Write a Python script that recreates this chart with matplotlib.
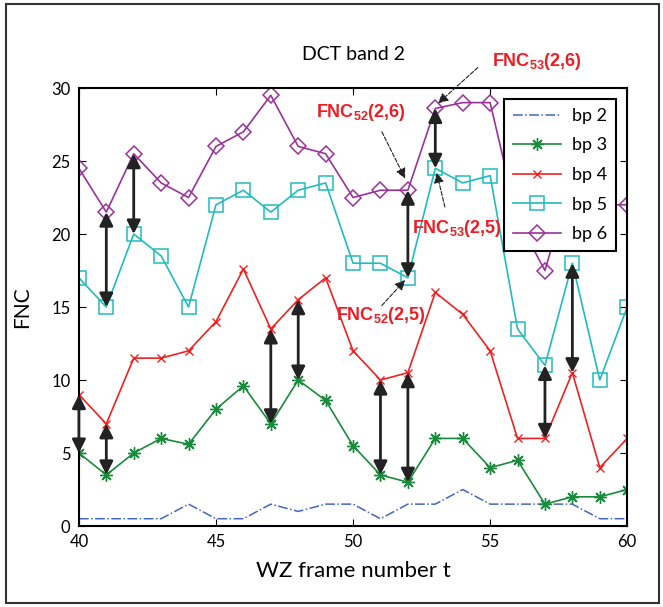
import numpy as np
import matplotlib
matplotlib.use('Agg')
import matplotlib.pyplot as plt
from matplotlib.patches import Rectangle

plt.rcParams['font.family'] = ['Lato', 'DejaVu Sans']
plt.rcParams['mathtext.fontset'] = 'custom'
plt.rcParams['mathtext.rm'] = 'Liberation Sans:bold'
plt.rcParams['mathtext.bf'] = 'Liberation Sans:bold'
plt.rcParams['mathtext.default'] = 'bf'

# frame numbers
t = list(range(40, 61))

# FNC per bit plane
bp2 = [0.5, 0.5, 0.5, 0.5, 1.5, 0.5, 0.5, 1.5, 1.0, 1.5, 1.5,
       0.5, 1.5, 1.5, 2.5, 1.5, 1.5, 1.5, 1.5, 0.5, 0.5]
bp3 = [5, 3.5, 5, 6, 5.6, 8, 9.6, 7, 10, 8.6, 5.5,
       3.5, 3, 6, 6, 4, 4.5, 1.5, 2, 2, 2.5]
bp4 = [9, 7, 11.5, 11.5, 12, 14, 17.6, 13.5, 15.5, 17, 12,
       10, 10.5, 16, 14.5, 12, 6, 6, 10.5, 4, 6]
bp5 = [17, 15, 20, 18.5, 15, 22, 23, 21.5, 23, 23.5, 18,
       18, 17, 24.5, 23.5, 24, 13.5, 11, 18, 10, 15]
bp6 = [24.5, 21.5, 25.5, 23.5, 22.5, 26, 27, 29.5, 26, 25.5, 22.5,
       23, 23, 28.6, 29, 29, 21, 17.5, 24, 22, 22]

# double arrows: (frame, upper value, lower value)
arrow_x = [40, 41, 41, 42, 47, 48, 51, 52, 52, 53, 57, 58]
arrow_top = [9, 21.5, 7, 25.5, 13.5, 15.5, 10, 10.5, 23, 28.6, 11, 18]
arrow_bot = [5, 15, 3.5, 20, 7, 10, 3.5, 3, 17, 24.5, 6, 10.5]

# labels: text, text position, arrow tail, arrow head
labels = ['$FNC_{53}(2{,}6)$', '$FNC_{52}(2{,}6)$', '$FNC_{53}(2{,}5)$', '$FNC_{52}(2{,}5)$']
label_xy = [(56.7, 31.8), (50.3, 28.3), (53.8, 20.4), (51.0, 14.4)]
label_tail = [(54.55, 31.4), (51.05, 27.0), (53.35, 21.85), (51.05, 15.1)]
label_head = [(53.1, 28.95), (51.9, 23.8), (53.05, 24.2), (51.9, 16.85)]

fig = plt.figure(figsize=(6.63, 6.07), dpi=100)
ax = fig.add_axes([0.119, 0.1334, 0.827, 0.7216])

ax.plot(t, bp2, color='#4466bb', linestyle='-.', lw=1.1, label='bp 2')
ax.plot(t, bp3, color='#1a8a3c', marker=(8, 2, 0), ms=9, mew=1.0, lw=1.2, label='bp 3')
ax.plot(t, bp4, color='#ee2222', marker='x', ms=6, mew=1.0, lw=1.2, label='bp 4')
ax.plot(t, bp5, color='#22bbbb', marker='s', ms=10, mfc='none', mew=1.1, lw=1.2, label='bp 5')
ax.plot(t, bp6, color='#993399', marker='D', ms=8, mfc='none', mew=1.1, lw=1.2, label='bp 6')

for x, y1, y0 in zip(arrow_x, arrow_top, arrow_bot):
    ax.annotate('', xy=(x, y1), xytext=(x, y0),
                arrowprops=dict(arrowstyle='<|-|>', color='#222222', lw=2,
                                mutation_scale=20, shrinkA=0, shrinkB=0))

for txt, pos, tail, head in zip(labels, label_xy, label_tail, label_head):
    ax.text(pos[0], pos[1], txt, color='#ee1c24', fontsize=13, ha='center', va='center',
            clip_on=False)
    ax.annotate('', xy=head, xytext=tail, annotation_clip=False,
                arrowprops=dict(arrowstyle='-|>', color='#222222', lw=0.8, linestyle='--',
                                mutation_scale=15, shrinkA=0, shrinkB=0))

ax.set_xlim(40, 60)
ax.set_ylim(0, 30)
ax.set_xticks([40, 45, 50, 55, 60])
ax.set_yticks([0, 5, 10, 15, 20, 25, 30])
ax.tick_params(direction='in', top=True, right=True, labelsize=12, length=5, pad=6)
for s in ax.spines.values():
    s.set_linewidth(1.5)

ax.set_title('DCT band 2', fontsize=14, pad=20)
ax.set_xlabel('WZ frame number t', fontsize=16, labelpad=8)
ax.set_ylabel('FNC', fontsize=15, labelpad=14)

leg = ax.legend(loc='upper right', fontsize=13, handlelength=2.7, labelspacing=0.75,
                fancybox=False, framealpha=1, edgecolor='black',
                borderaxespad=0.6, borderpad=0.5, handletextpad=0.6)
leg.get_frame().set_linewidth(1.5)
leg.set_zorder(10)

fig.patches.append(Rectangle((0.009, 0.006), 0.985, 0.988, transform=fig.transFigure,
                             fill=False, edgecolor='#333333', lw=1.5))

fig.savefig('out.png', dpi=100)
